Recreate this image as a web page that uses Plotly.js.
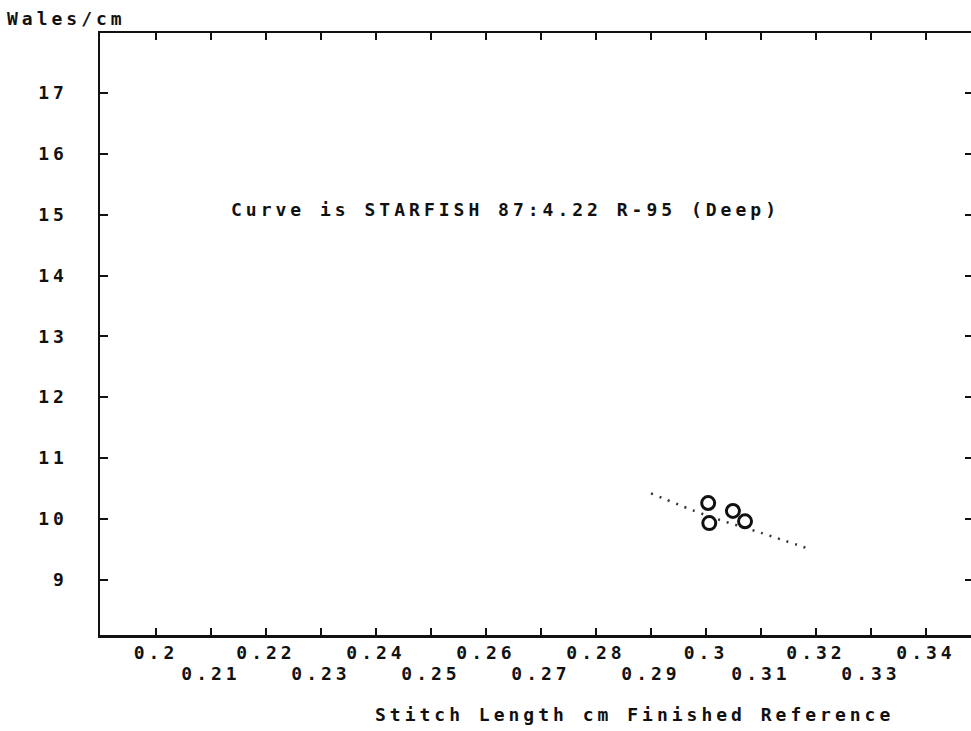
<!DOCTYPE html>
<html>
<head>
<meta charset="utf-8">
<script src="https://cdn.plot.ly/plotly-3.0.1.min.js"></script>
<style>
  html, body { margin: 0; padding: 0; background: #fff; overflow: hidden; }
  #chart { width: 976px; height: 731px; }
  #chart svg text { letter-spacing: 4px; }
</style>
</head>
<body>
<div id="chart"></div>
<script>
// ---- data ----
const stitchLength = [0.3004, 0.3006, 0.3049, 0.3071];   // cm
const walesPerCm   = [10.26, 9.93, 10.13, 9.96];

// reference curve (dotted)
const curveX = [0.290, 0.300, 0.310, 0.319];
const curveY = [10.42, 10.06, 9.77, 9.50];

// tick values / labels (x labels alternate between two rows)
const xTickVals     = [0.20, 0.21, 0.22, 0.23, 0.24, 0.25, 0.26, 0.27, 0.28, 0.29, 0.30, 0.31, 0.32, 0.33, 0.34];
const xTopRowVals   = [0.20, 0.22, 0.24, 0.26, 0.28, 0.30, 0.32, 0.34];
const xTopRowText   = ["0.2", "0.22", "0.24", "0.26", "0.28", "0.3", "0.32", "0.34"];
const xLowRowVals   = [0.21, 0.23, 0.25, 0.27, 0.29, 0.31, 0.33];
const xLowRowText   = ["0.21", "0.23", "0.25", "0.27", "0.29", "0.31", "0.33"];
const yTickVals     = [9, 10, 11, 12, 13, 14, 15, 16, 17];
const yTickLabels   = ["9", "10", "11", "12", "13", "14", "15", "16", "17"];

const curveLabel = "Curve is STARFISH 87:4.22 R-95 (Deep)";
const xTitle = "Stitch Length cm Finished Reference";
const yTitle = "Wales/cm";

// ---- chart ----
const FONT = "DejaVu Sans Mono, Liberation Mono, monospace";
const ink = "#111";
const XR = [0.18982, 0.34855];
const tf = { family: FONT, size: 18, color: ink, weight: "bold" };

// top-row labels on the main axis; blanks at odd positions
const xMainText = xTickVals.map(v => {
  const i = xTopRowVals.findIndex(t => Math.abs(t - v) < 1e-9);
  return i >= 0 ? xTopRowText[i] : "";
});

const traces = [
  {
    x: curveX, y: curveY, type: "scatter", mode: "lines",
    line: { color: "#333", width: 2.5, dash: "2px,7px", shape: "spline" },
    hoverinfo: "skip", showlegend: false
  },
  {
    x: stitchLength, y: walesPerCm, type: "scatter", mode: "markers",
    marker: { symbol: "circle-open", size: 13, color: ink, line: { width: 3, color: ink } },
    showlegend: false
  },
  {
    // carrier for the second (lower) row of x labels; sits below the visible range
    x: xLowRowVals, y: xLowRowVals.map(() => 0), xaxis: "x2", yaxis: "y",
    type: "scatter", mode: "markers", marker: { opacity: 0 },
    hoverinfo: "skip", showlegend: false
  }
];

const layout = {
  width: 976, height: 731,
  margin: { l: 100, r: 3, t: 33, b: 96 },
  paper_bgcolor: "#fff", plot_bgcolor: "#fff",
  font: tf,
  xaxis: {
    range: XR,
    tickvals: xTickVals, ticktext: xMainText,
    ticks: "inside", ticklen: 7, tickwidth: 2, tickcolor: ink,
    showline: true, linecolor: ink, linewidth: 2.5, mirror: "ticks",
    showgrid: false, zeroline: false,
    ticklabelstandoff: 0, tickangle: 0,
    tickfont: tf
  },
  xaxis2: {
    range: XR, overlaying: "x", anchor: "y", side: "bottom",
    tickvals: xLowRowVals, ticktext: xLowRowText,
    ticks: "", showline: false, showgrid: false, zeroline: false,
    ticklabelstandoff: 26, tickangle: 0,
    tickfont: tf
  },
  yaxis: {
    range: [8.091, 17.986],
    tickvals: yTickVals, ticktext: yTickLabels,
    ticks: "inside", ticklen: 8, tickwidth: 2, tickcolor: ink,
    showline: true, linecolor: ink, linewidth: 2.5, mirror: "ticks",
    showgrid: false, zeroline: false,
    ticklabelstandoff: 26,
    tickfont: tf
  },
  annotations: [
    {
      text: curveLabel, xref: "x", yref: "y", x: 0.26346, y: 15.08,
      xanchor: "center", yanchor: "middle", showarrow: false, font: tf
    },
    {
      text: xTitle, xref: "paper", yref: "paper",
      x: 0.6128, y: -(714 - 635) / 602,
      xanchor: "center", yanchor: "middle", showarrow: false, font: tf
    },
    {
      text: yTitle, xref: "paper", yref: "paper",
      x: -0.0389, y: 1 + (33 - 19) / 602,
      xanchor: "center", yanchor: "middle", showarrow: false, font: tf
    }
  ]
};

Plotly.newPlot("chart", traces, layout, { displayModeBar: false, staticPlot: true });
</script>
</body>
</html>
